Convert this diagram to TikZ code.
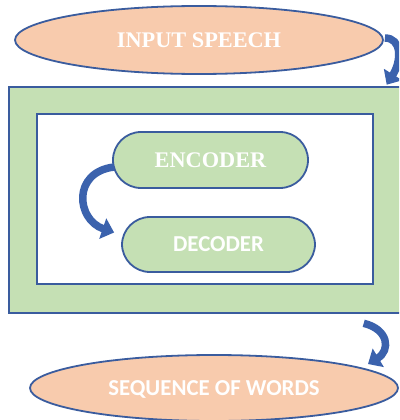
\documentclass[tikz,border=0pt]{standalone}
\usepackage{fontspec}
\setmainfont{Liberation Serif}
\newfontfamily\calib{Carlito}
\usetikzlibrary{arrows.meta,shapes.geometric,calc}

\definecolor{peach}{HTML}{F8CBAD}
\definecolor{leaf}{HTML}{C5E0B4}
\definecolor{edgeblue}{HTML}{3A5C9E}
\definecolor{arrowblue}{HTML}{3B62AD}

\tikzset{
  oval/.style={ellipse, draw=edgeblue, line width=1.8pt, fill=peach,
    inner sep=0pt, text=white, text depth=0pt},
  frame/.style={rectangle, draw=edgeblue, line width=2.6pt, inner sep=0pt},
  pill/.style={rectangle, rounded corners=28pt, draw=edgeblue, line width=1.8pt,
    fill=leaf, inner sep=0pt, text=white, text depth=0pt,
    minimum height=56pt},
  serifbold/.style={font=\fontsize{22.3}{26}\selectfont\bfseries},
  sansbold/.style={font=\fontsize{22.8}{27}\selectfont\calib\bfseries},
  flowarc/.style={draw=arrowblue, line width=7.5pt,
    -{Triangle[length=12pt,width=21pt]}, arrowblue}
}

\begin{document}
\begin{tikzpicture}[x=1pt,y=-1pt]
  \useasboundingbox (0,0) rectangle (399,420);
  \clip (0,0) rectangle (399,420);

  % input and output ovals
  \node[oval, serifbold, minimum width=368pt, minimum height=68pt]
    (speech) at (199,40) {INPUT SPEECH};
  \node[oval, sansbold, minimum width=368pt, minimum height=66pt]
    (words) at (214,388) {SEQUENCE OF WORDS};

  % model frame with its inner panel
  \node[frame, fill=leaf, minimum width=396pt, minimum height=226pt]
    (model) at (207,200) {};
  \node[frame, fill=white, line width=2.3pt, minimum width=336pt, minimum height=170pt]
    (panel) at (205,199) {};

  % encoder and decoder blocks
  \node[pill, serifbold, minimum width=195pt] (enc) at (210.5,160) {ENCODER};
  \node[pill, sansbold, minimum width=193pt, minimum height=55pt]
    (dec) at (218.5,244.5) {DECODER};

  % curved flow arrows
  \draw[flowarc] ($(speech.east)+(1,-2)$)
    .. controls ($(speech.east)+(18,-2)$) and ($(model.north west)+(394,-25)$)
    .. ($(model.north west)+(379,-1)$);
  \draw[flowarc] ($(enc.west)+(2,7)$)
    .. controls ($(enc.west)+(-40,12)$) and ($(dec.west)+(-45,-25)$)
    .. ($(dec.west)+(-7,-12)$);
  \draw[flowarc] ($(model.south west)+(356,9)$)
    .. controls ($(model.south west)+(381,15)$) and ($(model.south west)+(383,36)$)
    .. ($(words.center)+(154,-24)$);
\end{tikzpicture}
\end{document}
